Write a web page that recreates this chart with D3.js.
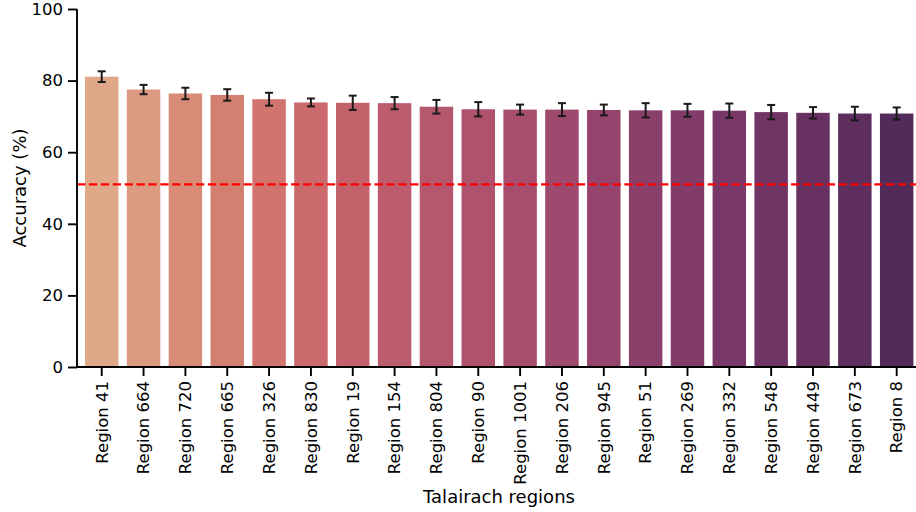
<!DOCTYPE html>
<html>
<head>
<meta charset="utf-8">
<script src="https://cdn.jsdelivr.net/npm/d3@7"></script>
<style>
  html, body { margin: 0; padding: 0; background: #fff; }
  svg { display: block; font-family: "DejaVu Sans", sans-serif; }
</style>
</head>
<body>
<svg id="chart" width="916" height="512"></svg>
<script>
// Talairach regions ranked by decoding accuracy (mean ± error)
const regions = ["Region 41", "Region 664", "Region 720", "Region 665", "Region 326",
  "Region 830", "Region 19", "Region 154", "Region 804", "Region 90",
  "Region 1001", "Region 206", "Region 945", "Region 51", "Region 269",
  "Region 332", "Region 548", "Region 449", "Region 673", "Region 8"];
const accuracy = [81.1, 77.5, 76.4, 76.0, 74.8, 73.9, 73.8, 73.7, 72.7, 72.0,
  71.9, 71.9, 71.8, 71.7, 71.7, 71.6, 71.2, 71.0, 70.8, 70.8];
const errors = [1.5, 1.3, 1.6, 1.6, 1.8, 1.1, 2.0, 1.7, 1.9, 2.0,
  1.4, 1.8, 1.5, 2.0, 1.8, 2.0, 2.0, 1.6, 1.9, 1.7];
const yTicks = [0, 20, 40, 60, 80, 100];
const chanceLevel = 51;

// flare-like ramp, light peach to deep plum
const paletteStops = ["#dfa889", "#d6826f", "#c9636a", "#b4566e", "#a14a6e",
  "#853d6c", "#6e3465", "#532b5a"];

const svg = d3.select("#chart");
const axisLeftX = 77;
const plotTop = 9, plotBottom = 367;

const x = d3.scaleBand()
  .domain(regions)
  .range([80.8, 917.6])
  .paddingInner(0.2)
  .paddingOuter(0.1);

const y = d3.scaleLinear().domain([0, 100]).range([plotBottom, plotTop]);

const ramp = d3.interpolateRgbBasis(paletteStops);
const color = i => ramp(i / (regions.length - 1));

// bars
svg.append("g")
  .selectAll("rect")
  .data(regions)
  .join("rect")
  .attr("x", d => x(d))
  .attr("y", (d, i) => y(accuracy[i]))
  .attr("width", x.bandwidth())
  .attr("height", (d, i) => y(0) - y(accuracy[i]))
  .attr("fill", (d, i) => color(i));

// chance level
svg.append("line")
  .attr("x1", axisLeftX).attr("x2", 916)
  .attr("y1", y(chanceLevel)).attr("y2", y(chanceLevel))
  .attr("stroke", "red")
  .attr("stroke-width", 2.25)
  .attr("stroke-dasharray", "8.3,3.6");

// error bars
const eb = svg.append("g")
  .attr("stroke", "#1a1a1a")
  .attr("stroke-width", 2);
regions.forEach((d, i) => {
  const cx = x(d) + x.bandwidth() / 2;
  const lo = y(accuracy[i] - errors[i]);
  const hi = y(accuracy[i] + errors[i]);
  eb.append("line").attr("x1", cx).attr("x2", cx).attr("y1", lo).attr("y2", hi);
  eb.append("line").attr("x1", cx - 4).attr("x2", cx + 4).attr("y1", lo).attr("y2", lo);
  eb.append("line").attr("x1", cx - 4).attr("x2", cx + 4).attr("y1", hi).attr("y2", hi);
});

// y axis
const yAxis = svg.append("g")
  .attr("transform", `translate(${axisLeftX},0)`)
  .call(d3.axisLeft(y).tickValues(yTicks).tickSize(9).tickPadding(5));
yAxis.select(".domain").attr("d", `M0,${plotTop}V${plotBottom}`);

// x axis
const xAxis = svg.append("g")
  .attr("transform", `translate(0,${plotBottom})`)
  .call(d3.axisBottom(x).tickSize(9).tickSizeOuter(0).tickPadding(5));
xAxis.select(".domain").attr("d", `M${axisLeftX},0H916`);
xAxis.selectAll(".tick text")
  .attr("transform", "rotate(-90)")
  .attr("text-anchor", "end")
  .attr("dy", "0.35em")
  .attr("x", -14)
  .attr("y", 0);

[yAxis, xAxis].forEach(g => {
  g.selectAll(".domain").attr("stroke", "#000").attr("stroke-width", 1.9);
  g.selectAll(".tick line").attr("stroke", "#000").attr("stroke-width", 1.9);
  g.selectAll(".tick text")
    .attr("fill", "#000")
    .style("font-family", "'DejaVu Sans', sans-serif")
    .style("font-size", "16.5px");
});

// axis titles
svg.append("text")
  .attr("x", 499).attr("y", 503)
  .attr("text-anchor", "middle")
  .style("font-size", "18px")
  .text("Talairach regions");

svg.append("text")
  .attr("transform", `translate(26,${(plotTop + plotBottom) / 2}) rotate(-90)`)
  .attr("text-anchor", "middle")
  .style("font-size", "18px")
  .text("Accuracy (%)");
</script>
</body>
</html>
